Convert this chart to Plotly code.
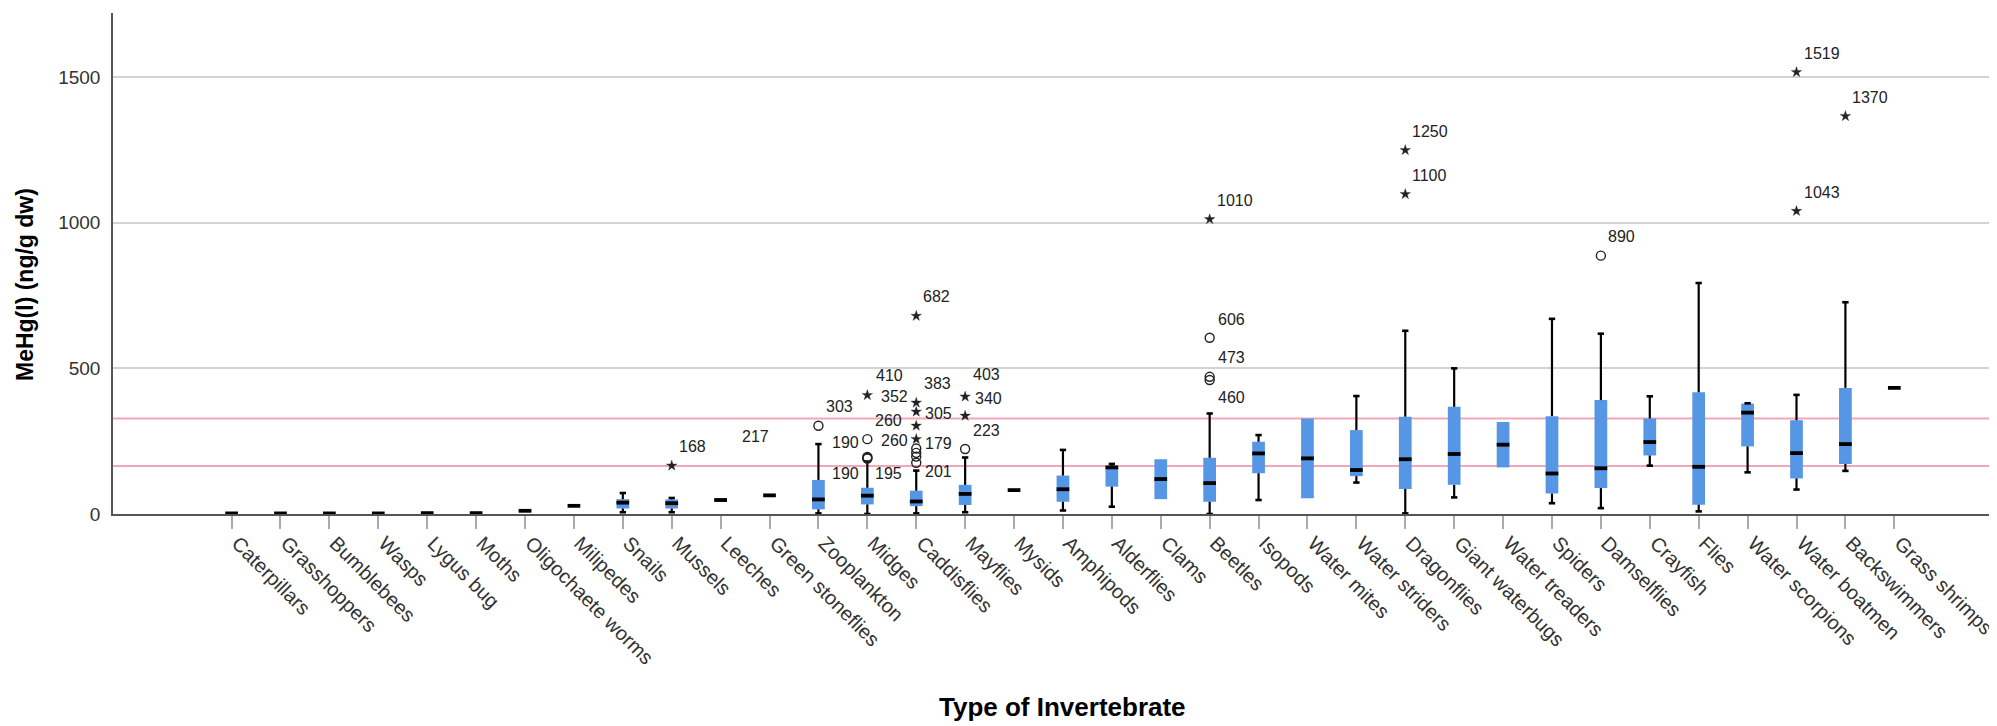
import plotly.graph_objects as go

categories = ["Caterpillars", "Grasshoppers", "Bumblebees", "Wasps", "Lygus bug", "Moths",
              "Oligochaete worms", "Milipedes", "Snails", "Mussels", "Leeches", "Green stoneflies",
              "Zooplankton", "Midges", "Caddisflies", "Mayflies", "Mysids", "Amphipods",
              "Alderflies", "Clams", "Beetles", "Isopods", "Water mites", "Water striders",
              "Dragonflies", "Giant waterbugs", "Water treaders", "Spiders", "Damselflies",
              "Crayfish", "Flies", "Water scorpions", "Water boatmen", "Backswimmers", "Grass shrimps"]

q1 =     [2, 2, 2, 2, 3, 3, 9, 28, 19, 19, 42, 64, 16, 33, 27, 31, 82, 42, 94, 51, 42, 140, 54, 130, 86, 100, 160, 70, 89, 201, 32, 232, 122, 172, 433]
median = [2, 2, 2, 2, 3, 3, 11, 28, 39, 37, 48, 64, 50, 63, 43, 69, 82, 85, 160, 120, 106, 208, 191, 151, 188, 206, 238, 139, 157, 247, 162, 348, 209, 240, 433]
q3 =     [2, 2, 2, 2, 3, 3, 13, 28, 51, 50, 54, 64, 117, 90, 80, 100, 82, 132, 165, 188, 193, 248, 328, 288, 334, 368, 316, 336, 391, 328, 418, 379, 322, 433, 433]
w_low =  [2, 2, 2, 2, 3, 3, 9, 28, 6, 6, 42, 64, 2, 0, 2, 6, 82, 12, 25, 51, 0, 48, 54, 108, 2, 57, 160, 37, 20, 166, 9, 143, 84, 148, 433]
w_high = [2, 2, 2, 2, 3, 3, 13, 28, 72, 55, 54, 64, 240, 180, 149, 194, 82, 220, 172, 188, 345, 271, 328, 405, 629, 500, 316, 670, 619, 404, 793, 380, 409, 727, 433]

outlier_cat = [9, 10, 12, 13, 13, 13, 13, 13, 14, 14, 14, 14, 14, 14, 14, 14, 14,
               15, 15, 15, 20, 20, 20, 20, 24, 24, 28, 32, 32, 33]
outlier_val = [166, 200, 303, 408, 257, 196, 193, 190, 680, 382, 351, 303, 257, 225, 210, 197, 176,
               403, 337, 223, 1012, 605, 471, 460, 1249, 1098, 887, 1517, 1040, 1366]
outlier_kind = ["star", "none", "circle", "star", "circle", "circle", "circle", "circle",
                "star", "star", "star", "star", "star", "circle", "circle", "circle", "circle",
                "star", "star", "circle", "star", "circle", "circle", "circle",
                "star", "star", "circle", "star", "star", "star"]
outlier_label = ["168", "217", "303", "410", "260", "190", "190", "195",
                 "682", "383", "352", "305", "260", "179", "", "", "201",
                 "403", "340", "223", "1010", "606", "473", "460",
                 "1250", "1100", "890", "1519", "1043", "1370"]

reference_lines = [165, 328]
y_ticks = [0, 500, 1000, 1500]

# label placement (screen px offsets from the marker; negative dx = label on the left)
label_offsets = [(5, -19), (19, -19), (6, -19), (7, -20), (6, -19), (-6, -14), (-6, 16), (6, 15),
                 (5, -19), (6, -19), (-6, -15), (7, -12), (-6, 1), (7, -5), (0, 0), (0, 0), (7, 9),
                 (6, -22), (8, -17), (6, -19), (5, -19), (6, -18), (6, -19), (6, 17),
                 (5, -19), (5, -19), (5, -19), (5, -19), (5, -19), (5, -19)]

BLUE = "#5596E5"
BOX_HALF = 0.13
CAP_HALF = 0.065

# page is 1997x726; the html body adds an 8px offset
OFF = 8
PAGE_W, PAGE_H = 1997, 726
W, H = PAGE_W - OFF, PAGE_H - OFF
PLOT_L, PLOT_T, PLOT_B = 113, 13, 514      # page coordinates of the plot area
ML, MT, MR = PLOT_L - OFF, PLOT_T - OFF, 0
MB = H - (PLOT_B - OFF)
PW, PH = W - ML - MR, H - MT - MB

idx = list(range(len(categories)))
fig = go.Figure()

# boxes
fig.add_trace(go.Bar(x=idx, y=[b - a for a, b in zip(q1, q3)], base=q1, width=2 * BOX_HALF,
                     marker=dict(color=BLUE, line=dict(width=0)), hoverinfo="skip",
                     showlegend=False))

# whiskers
wx, wy = [], []
cx, cy = [], []
for i in idx:
    if w_high[i] > q3[i]:
        wx += [i, i, None]; wy += [q3[i], w_high[i], None]
        cx += [i - CAP_HALF, i + CAP_HALF, None]; cy += [w_high[i], w_high[i], None]
    if w_low[i] < q1[i]:
        wx += [i, i, None]; wy += [q1[i], w_low[i], None]
        cx += [i - CAP_HALF, i + CAP_HALF, None]; cy += [w_low[i], w_low[i], None]
fig.add_trace(go.Scatter(x=wx, y=wy, mode="lines", line=dict(color="#000", width=2.2),
                         hoverinfo="skip", showlegend=False))
fig.add_trace(go.Scatter(x=cx, y=cy, mode="lines", line=dict(color="#000", width=2.6),
                         hoverinfo="skip", showlegend=False))

# medians
mx, my = [], []
for i in idx:
    mx += [i - BOX_HALF, i + BOX_HALF, None]; my += [median[i], median[i], None]
fig.add_trace(go.Scatter(x=mx, y=my, mode="lines", line=dict(color="#000", width=3.8),
                         hoverinfo="skip", showlegend=False))

# outliers
for kind, sym, size, lw in [("circle", "circle-open", 9, 1.4), ("star", "star", 8, 0.3)]:
    xs = [c for c, k in zip(outlier_cat, outlier_kind) if k == kind]
    ys = [v for v, k in zip(outlier_val, outlier_kind) if k == kind]
    fig.add_trace(go.Scatter(x=xs, y=ys, mode="markers",
                             marker=dict(symbol=sym, size=size, color="#222",
                                         line=dict(color="#222", width=lw)),
                             hoverinfo="skip", showlegend=False))

annotations = []
for c, v, lbl, (dx, dy) in zip(outlier_cat, outlier_val, outlier_label, label_offsets):
    if not lbl:
        continue
    annotations.append(dict(x=c, y=v, xref="x", yref="y", text=lbl, showarrow=False,
                            xanchor="left" if dx >= 0 else "right", yanchor="middle",
                            xshift=dx, yshift=-dy,
                            font=dict(family="Liberation Sans, Arial", size=16, color="#222")))


def page_to_paper(px, py):
    return (px - PLOT_L) / PW, (PLOT_B - py) / PH


tx, ty = page_to_paper(25, 285)
annotations.append(dict(x=tx, y=ty, xref="paper", yref="paper", text="<b>MeHg(I) (ng/g dw)</b>",
                        textangle=-90, showarrow=False, xanchor="center", yanchor="middle",
                        font=dict(family="Liberation Sans, Arial", size=23, color="#000")))
tx, ty = page_to_paper(1062, 707)
annotations.append(dict(x=tx, y=ty, xref="paper", yref="paper",
                        text="<b>Type of Invertebrate</b>", showarrow=False,
                        xanchor="center", yanchor="middle",
                        font=dict(family="Liberation Sans, Arial", size=26, color="#000")))

shapes = []
for r in reference_lines:
    shapes.append(dict(type="line", xref="paper", yref="y", x0=0, x1=1, y0=r, y1=r,
                       line=dict(color="#F2A7B8", width=2), layer="below"))

fig.update_layout(
    width=W, height=H,
    margin=dict(l=ML, r=MR, t=MT, b=MB, autoexpand=False),
    plot_bgcolor="white", paper_bgcolor="white",
    barmode="overlay",
    annotations=annotations,
    shapes=shapes,
    font=dict(family="Liberation Sans, Arial", color="#333"),
    xaxis=dict(range=[-2.425, 36.1], tickmode="array", tickvals=idx, ticktext=categories,
               tickangle=45, ticks="outside", ticklen=13, tickwidth=1.5, tickcolor="#AAAAAA",
               showgrid=False, zeroline=False, showline=True, linecolor="#555", linewidth=1.5,
               ticklabelshift=6, ticklabelstandoff=-5, ticklabeloverflow="allow",
               automargin=False, tickfont=dict(size=20, color="#333")),
    yaxis=dict(range=[0, 1720], tickmode="array", tickvals=y_ticks, ticks="",
               showgrid=True, gridcolor="#D3D3D3", gridwidth=2, zeroline=False,
               showline=True, linecolor="#555", linewidth=1.5, ticklabelstandoff=7,
               automargin=False, tickfont=dict(size=19, color="#333")),
)

fig.write_html("out.html")
